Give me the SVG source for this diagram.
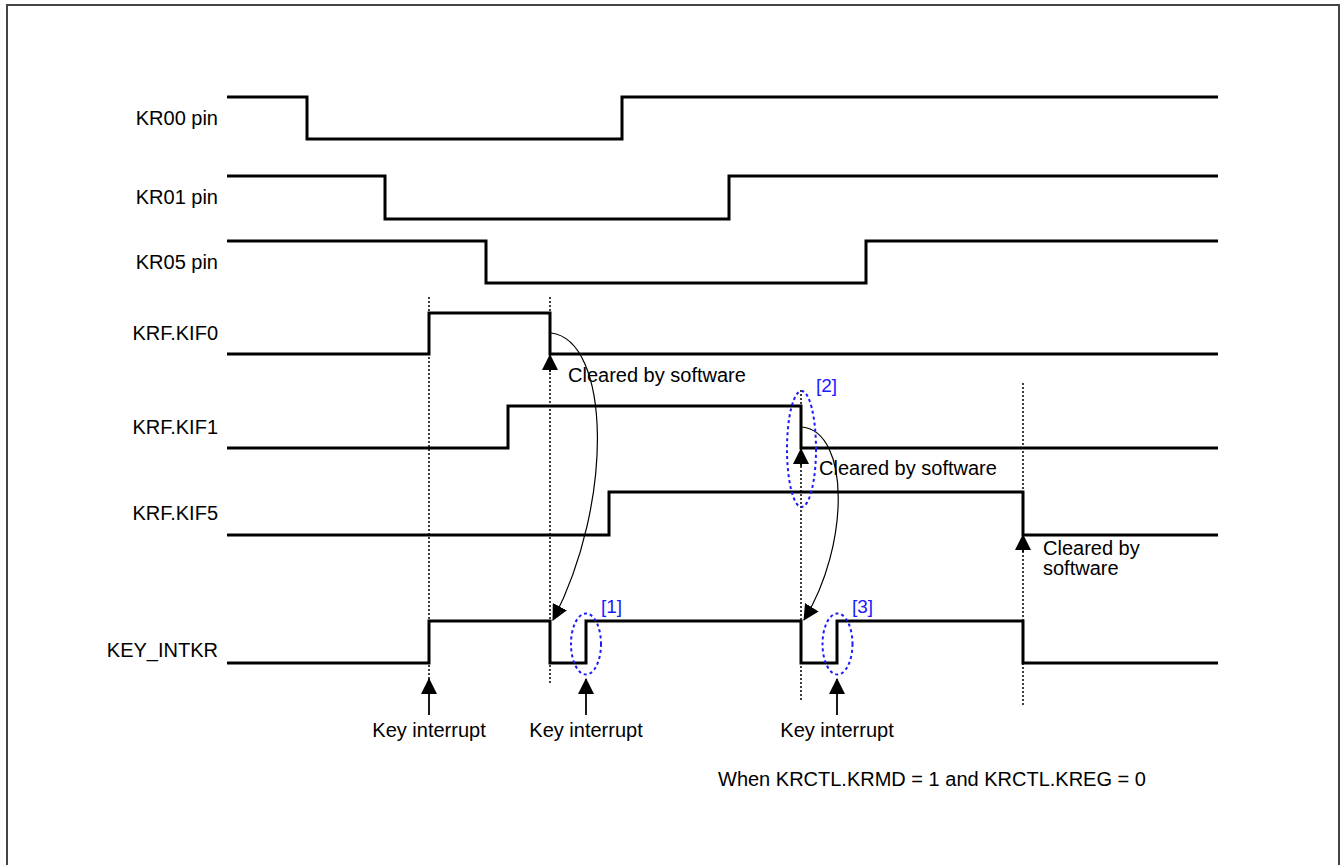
<svg xmlns="http://www.w3.org/2000/svg" width="1341" height="865" viewBox="0 0 1341 865">
<defs>
<style>
.lbl{font-family:"Liberation Sans",Arial,sans-serif;font-size:20px;fill:#000}
.sig{fill:none;stroke:#000;stroke-width:3;stroke-linejoin:miter}
.dot{fill:none;stroke:#000;stroke-width:1.5;stroke-dasharray:2,2}
.ell{fill:none;stroke:#1a1aff;stroke-width:2;stroke-dasharray:3,3}
.blue{font-family:"Liberation Sans",Arial,sans-serif;font-size:19px;fill:#1a1aff}
.curve{fill:none;stroke:#000;stroke-width:1.2}
.arr{fill:none;stroke:#000;stroke-width:1.8}
</style>
<marker id="ah" viewBox="0 0 16 16" refX="15" refY="8" markerWidth="16" markerHeight="16" markerUnits="userSpaceOnUse" orient="auto">
<path d="M0,0 L16,8 L0,16 Z" fill="#000"/>
</marker>
</defs>
<rect width="1341" height="865" fill="#fff"/>
<rect x="7" y="5" width="1332" height="870" fill="none" stroke="#444" stroke-width="2"/>

<g id="kr00">
<text class="lbl" x="218" y="125" text-anchor="end">KR00 pin</text>
<path class="sig" d="M227,97 H307 V139 H622 V97 H1218"/>
</g>
<g id="kr01">
<text class="lbl" x="218" y="204" text-anchor="end">KR01 pin</text>
<path class="sig" d="M227,176 H385 V219 H729 V176 H1218"/>
</g>
<g id="kr05">
<text class="lbl" x="218" y="269" text-anchor="end">KR05 pin</text>
<path class="sig" d="M227,241 H486 V283 H866 V241 H1218"/>
</g>
<g id="kif0">
<text class="lbl" x="218" y="340" text-anchor="end">KRF.KIF0</text>
<path class="sig" d="M227,354 H429 V313 H550 V354 H1218"/>
</g>
<g id="kif1">
<text class="lbl" x="218" y="434" text-anchor="end">KRF.KIF1</text>
<path class="sig" d="M227,448 H508 V406 H801 V448 H1218"/>
</g>
<g id="kif5">
<text class="lbl" x="218" y="520" text-anchor="end">KRF.KIF5</text>
<path class="sig" d="M227,535 H609 V492 H1023 V535 H1218"/>
</g>
<g id="key_intkr">
<text class="lbl" x="218" y="657" text-anchor="end">KEY_INTKR</text>
<path class="sig" d="M227,663 H429 V621 H550 V663 H586 V621 H801 V663 H837 V621 H1023 V663 H1218"/>
</g>

<g id="connectors">
<line class="dot" x1="429" y1="297" x2="429" y2="680"/>
<line class="dot" x1="550" y1="297" x2="550" y2="684"/>
<line class="dot" x1="801" y1="390" x2="801" y2="700"/>
<line class="dot" x1="1023" y1="383" x2="1023" y2="707"/>

<line class="arr" x1="550" y1="372" x2="550" y2="355" marker-end="url(#ah)"/>
<line class="arr" x1="801" y1="466" x2="801" y2="449" marker-end="url(#ah)"/>
<line class="arr" x1="1023" y1="552" x2="1023" y2="535" marker-end="url(#ah)"/>

<line class="arr" x1="429" y1="715" x2="429" y2="679" marker-end="url(#ah)"/>
<line class="arr" x1="586" y1="715" x2="586" y2="679" marker-end="url(#ah)"/>
<line class="arr" x1="837" y1="715" x2="837" y2="679" marker-end="url(#ah)"/>

<path class="curve" d="M551,333 C610,340 615,500 553,620" marker-end="url(#ah)"/>
<path class="curve" d="M802,427 C850,432 850,545 804,620" marker-end="url(#ah)"/>
</g>

<g id="marks">
<ellipse class="ell" cx="586" cy="644" rx="15" ry="30.5"/>
<ellipse class="ell" cx="801.5" cy="449" rx="14.5" ry="58"/>
<ellipse class="ell" cx="837.5" cy="644" rx="15" ry="30.5"/>
<text class="blue" x="601" y="613">[1]</text>
<text class="blue" x="816" y="392">[2]</text>
<text class="blue" x="852" y="613">[3]</text>
</g>

<g id="texts">
<text class="lbl" x="568" y="382">Cleared by software</text>
<text class="lbl" x="819" y="475">Cleared by software</text>
<text class="lbl" x="1043" y="555">Cleared by</text>
<text class="lbl" x="1043" y="575">software</text>
<text class="lbl" x="429" y="737" text-anchor="middle">Key interrupt</text>
<text class="lbl" x="586" y="737" text-anchor="middle">Key interrupt</text>
<text class="lbl" x="837" y="737" text-anchor="middle">Key interrupt</text>
<text class="lbl" x="718" y="786">When KRCTL.KRMD = 1 and KRCTL.KREG = 0</text>
</g>
</svg>
